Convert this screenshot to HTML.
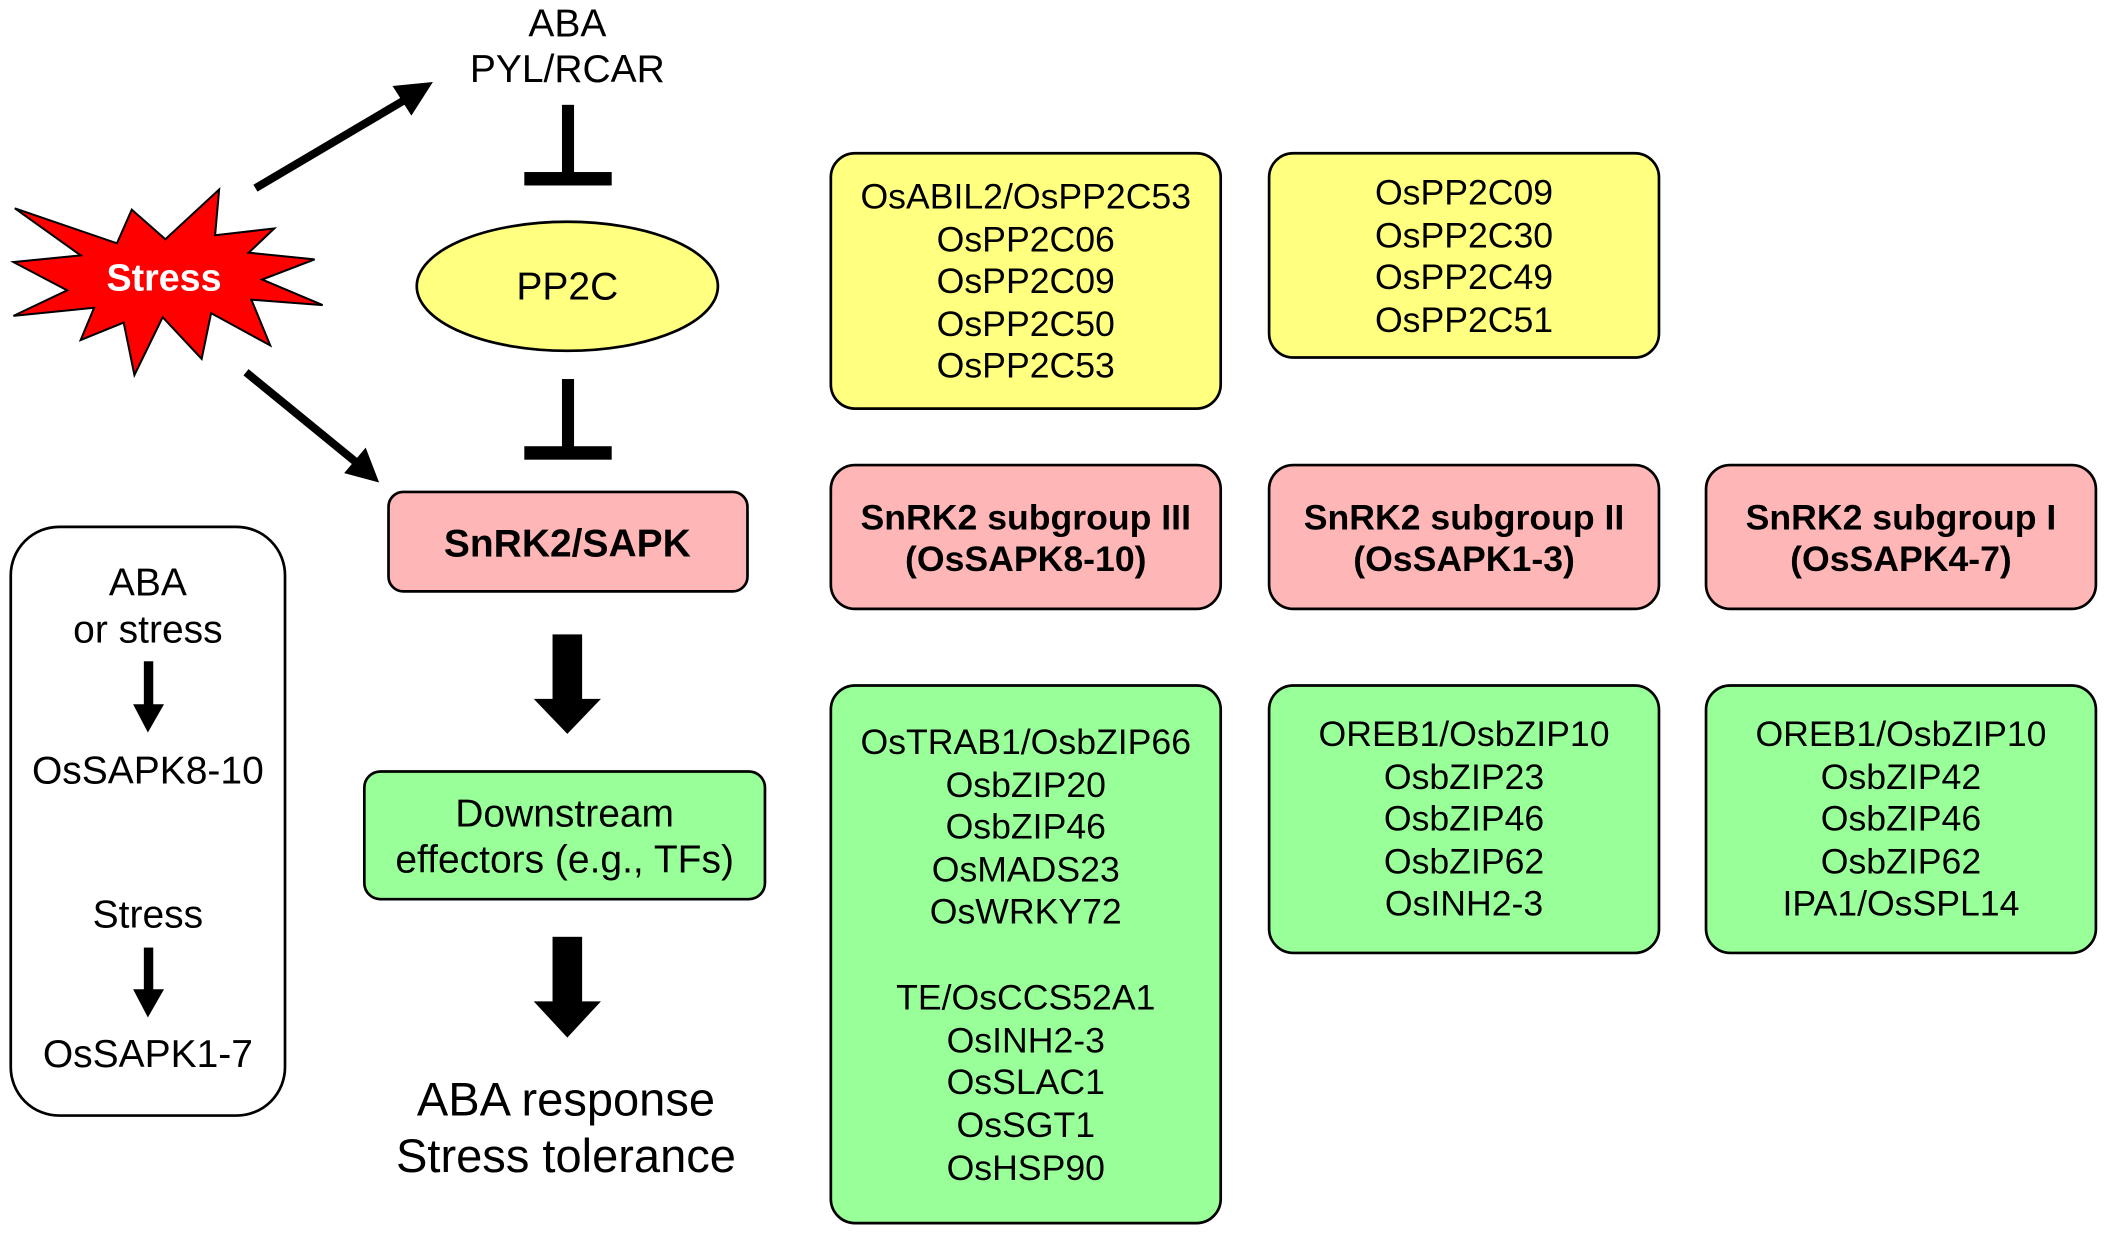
<!DOCTYPE html>
<html><head><meta charset="utf-8"><style>html,body{margin:0;padding:0;background:#fff;}svg{display:block;}</style></head>
<body>
<svg width="2108" height="1236" viewBox="0 0 1568 919.6" preserveAspectRatio="none" xmlns="http://www.w3.org/2000/svg" font-family="Liberation Sans, Arial, sans-serif">
<rect width="1568" height="920" fill="#fff"/>
<text x="422" y="27" font-size="29" text-anchor="middle">ABA</text>
<text x="422" y="61" font-size="29" text-anchor="middle">PYL/RCAR</text>
<rect x="418" y="78" width="9" height="52" fill="#000"/>
<rect x="390" y="128" width="65" height="10" fill="#000"/>
<rect x="418" y="282" width="9" height="52" fill="#000"/>
<rect x="390" y="332" width="65" height="10" fill="#000"/>
<ellipse cx="422" cy="213" rx="112" ry="48" fill="#ffff80" stroke="#000" stroke-width="2"/>
<text x="422" y="223" font-size="29" text-anchor="middle">PP2C</text>
<polygon points="11,155 87,181 98,156 123,178 163,141 160,175 204,170 185,188 234,193 195,208 240,227 187,223 201,257 157,233 150,267 121,236 100,279 92,240 60,253 70,229 10,235 50,216 10,195 60,190" fill="#ff0000" stroke="#000" stroke-width="1.5"/>
<text x="122" y="216" font-size="28" font-weight="bold" fill="#fff" text-anchor="middle">Stress</text>
<line x1="190" y1="140" x2="300" y2="75" stroke="#000" stroke-width="6"/>
<polygon points="322,61 292,64 306,86" fill="#000"/>
<line x1="183" y1="277" x2="265" y2="344" stroke="#000" stroke-width="6"/>
<polygon points="282,359 256,352 272,333" fill="#000"/>
<rect x="289" y="366" width="267" height="74" rx="11" fill="#ffb6b6" stroke="#000" stroke-width="2"/>
<text x="422" y="414" font-size="29" font-weight="bold" text-anchor="middle">SnRK2/SAPK</text>
<rect x="411" y="472" width="22" height="50" fill="#000"/>
<polygon points="397,520 447,520 422,546" fill="#000"/>
<rect x="411" y="697" width="22" height="50" fill="#000"/>
<polygon points="397,745 447,745 422,772" fill="#000"/>
<rect x="271" y="574" width="298" height="95" rx="12" fill="#99ff99" stroke="#000" stroke-width="2"/>
<text x="420" y="615" font-size="29" text-anchor="middle">Downstream</text>
<text x="420" y="649" font-size="29" text-anchor="middle">effectors (e.g., TFs)</text>
<text x="421" y="830" font-size="35" text-anchor="middle">ABA response</text>
<text x="421" y="872" font-size="35" text-anchor="middle">Stress tolerance</text>
<rect x="8" y="392" width="204" height="438" rx="36" fill="#fff" stroke="#000" stroke-width="2"/>
<g font-size="29" text-anchor="middle">
<text x="110" y="443">ABA</text>
<text x="110" y="478">or stress</text>
<text x="110" y="583">OsSAPK8-10</text>
<text x="110" y="690">Stress</text>
<text x="110" y="794">OsSAPK1-7</text>
</g>
<rect x="107" y="492" width="7" height="34" fill="#000"/>
<polygon points="99,524 122,524 110,545" fill="#000"/>
<rect x="107" y="705" width="7" height="34" fill="#000"/>
<polygon points="99,736 122,736 110,757" fill="#000"/>
<rect x="618" y="114" width="290" height="190" rx="18" fill="#ffff80" stroke="#000" stroke-width="2"/>
<rect x="944" y="114" width="290" height="152" rx="18" fill="#ffff80" stroke="#000" stroke-width="2"/>
<g font-size="26.5" text-anchor="middle">
<text x="763" y="155">OsABIL2/OsPP2C53</text>
<text x="763" y="187">OsPP2C06</text>
<text x="763" y="218">OsPP2C09</text>
<text x="763" y="250">OsPP2C50</text>
<text x="763" y="281">OsPP2C53</text>
<text x="1089" y="152">OsPP2C09</text>
<text x="1089" y="184">OsPP2C30</text>
<text x="1089" y="215">OsPP2C49</text>
<text x="1089" y="247">OsPP2C51</text>
</g>
<rect x="618" y="346" width="290" height="107" rx="18" fill="#ffb6b6" stroke="#000" stroke-width="2"/>
<rect x="944" y="346" width="290" height="107" rx="18" fill="#ffb6b6" stroke="#000" stroke-width="2"/>
<rect x="1269" y="346" width="290" height="107" rx="18" fill="#ffb6b6" stroke="#000" stroke-width="2"/>
<g font-size="26.5" font-weight="bold" text-anchor="middle">
<text x="763" y="394">SnRK2 subgroup III</text>
<text x="763" y="425">(OsSAPK8-10)</text>
<text x="1089" y="394">SnRK2 subgroup II</text>
<text x="1089" y="425">(OsSAPK1-3)</text>
<text x="1414" y="394">SnRK2 subgroup I</text>
<text x="1414" y="425">(OsSAPK4-7)</text>
</g>
<rect x="618" y="510" width="290" height="400" rx="18" fill="#99ff99" stroke="#000" stroke-width="2"/>
<rect x="944" y="510" width="290" height="199" rx="18" fill="#99ff99" stroke="#000" stroke-width="2"/>
<rect x="1269" y="510" width="290" height="199" rx="18" fill="#99ff99" stroke="#000" stroke-width="2"/>
<g font-size="26.5" text-anchor="middle">
<text x="763" y="561">OsTRAB1/OsbZIP66</text>
<text x="763" y="593">OsbZIP20</text>
<text x="763" y="624">OsbZIP46</text>
<text x="763" y="656">OsMADS23</text>
<text x="763" y="687">OsWRKY72</text>
<text x="763" y="751">TE/OsCCS52A1</text>
<text x="763" y="783">OsINH2-3</text>
<text x="763" y="814">OsSLAC1</text>
<text x="763" y="846">OsSGT1</text>
<text x="763" y="878">OsHSP90</text>
<text x="1089" y="555">OREB1/OsbZIP10</text>
<text x="1089" y="587">OsbZIP23</text>
<text x="1089" y="618">OsbZIP46</text>
<text x="1089" y="650">OsbZIP62</text>
<text x="1089" y="681">OsINH2-3</text>
<text x="1414" y="555">OREB1/OsbZIP10</text>
<text x="1414" y="587">OsbZIP42</text>
<text x="1414" y="618">OsbZIP46</text>
<text x="1414" y="650">OsbZIP62</text>
<text x="1414" y="681">IPA1/OsSPL14</text>
</g>
</svg>
</body></html>
